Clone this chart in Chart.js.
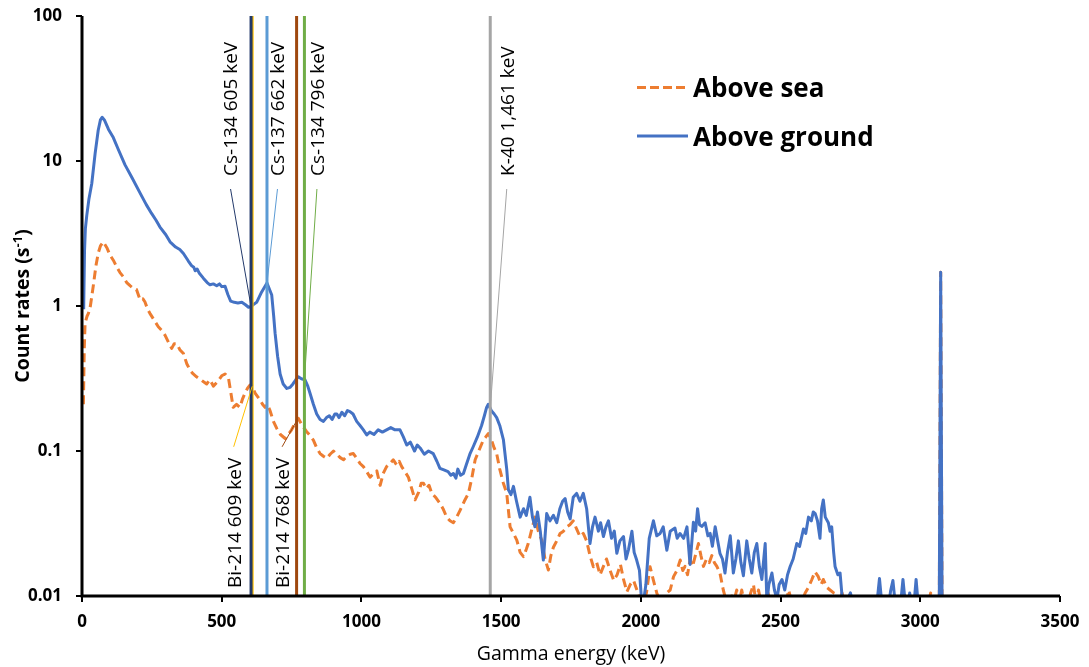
<!DOCTYPE html>
<html>
<head>
<meta charset="utf-8">
<script src="https://cdn.jsdelivr.net/npm/chart.js@4/dist/chart.umd.min.js"></script>
<style>
  html, body { margin: 0; padding: 0; background: #fff; }
  canvas { display: block; }
</style>
</head>
<body>
<canvas id="spectrum" width="1089" height="667"></canvas>
<script>
// Gamma spectra: [energy keV, count rate s^-1]. 0.009 marks bins below the 0.01 floor.
const aboveGround = [
  [6,0.95],[9,2.4],[12,3.4],[17,4.2],[25,5.5],[35,7.0],[47,11.3],[58,16.3],[66,19.2],[72,20],[80,19.2],
  [95,16.5],[112,14.5],[130,12],[154,9.4],[180,7.6],[208,6.0],[230,5.0],[249,4.35],[265,3.9],[279,3.5],
  [300,3.1],[315,2.77],[335,2.55],[350,2.45],[363,2.3],[380,2.05],[392,1.9],[400,1.85],[405,1.75],
  [412,1.8],[420,1.68],[435,1.55],[448,1.45],[458,1.4],[470,1.42],[482,1.38],[492,1.42],[500,1.36],
  [512,1.37],[522,1.2],[532,1.08],[545,1.06],[558,1.05],[572,1.06],[585,1.02],[596,0.98],[605,0.99],
  [615,1.03],[625,1.06],[643,1.25],[662,1.44],[679,1.19],[686,0.85],[691,0.65],[700,0.45],[709,0.34],
  [720,0.29],[733,0.27],[745,0.275],[755,0.29],[765,0.31],[774,0.325],[785,0.315],[798,0.31],[808,0.28],
  [816,0.25],[828,0.21],[840,0.18],[852,0.165],[864,0.16],[875,0.17],[885,0.175],[895,0.165],[905,0.18],
  [912,0.18],[920,0.17],[930,0.185],[940,0.175],[950,0.19],[959,0.187],[970,0.18],[983,0.16],[995,0.15],
  [1007,0.14],[1019,0.129],[1030,0.135],[1045,0.13],[1060,0.14],[1075,0.135],[1090,0.14],[1105,0.145],
  [1120,0.14],[1138,0.14],[1150,0.125],[1162,0.11],[1175,0.115],[1190,0.1],[1200,0.11],[1210,0.105],
  [1225,0.095],[1240,0.1],[1257,0.096],[1270,0.085],[1281,0.076],[1295,0.074],[1310,0.072],[1320,0.068],
  [1329,0.07],[1338,0.065],[1345,0.075],[1355,0.068],[1365,0.07],[1375,0.08],[1388,0.095],[1400,0.107],
  [1415,0.125],[1430,0.15],[1440,0.175],[1448,0.2],[1454,0.21],[1465,0.19],[1475,0.18],[1484,0.17],
  [1495,0.15],[1508,0.12],[1520,0.075],[1526,0.054],[1535,0.05],[1544,0.057],[1555,0.045],[1568,0.035],
  [1580,0.04],[1590,0.036],[1603,0.048],[1612,0.035],[1621,0.03],[1630,0.038],[1640,0.028],[1651,0.0177],
  [1663,0.037],[1675,0.033],[1687,0.036],[1699,0.032],[1710,0.04],[1720,0.045],[1729,0.047],[1738,0.038],
  [1747,0.034],[1758,0.048],[1770,0.051],[1782,0.045],[1794,0.051],[1806,0.04],[1818,0.023],[1827,0.03],
  [1836,0.035],[1848,0.028],[1856,0.032],[1866,0.0257],[1875,0.03],[1884,0.033],[1895,0.025],[1905,0.028],
  [1914,0.0197],[1925,0.024],[1938,0.0257],[1947,0.018],[1956,0.021],[1968,0.028],[1976,0.02],[1985,0.0177],
  [1995,0.015],[2003,0.009],[2009,0.009],[2018,0.012],[2030,0.025],[2045,0.033],[2057,0.026],[2069,0.027],
  [2080,0.03],[2093,0.0207],[2105,0.028],[2122,0.0294],[2130,0.025],[2140,0.027],[2153,0.025],[2165,0.03],
  [2176,0.0165],[2188,0.0322],[2196,0.028],[2203,0.04],[2210,0.031],[2218,0.0302],[2230,0.032],[2240,0.026],
  [2248,0.027],[2256,0.022],[2266,0.03],[2275,0.024],[2283,0.0197],[2292,0.018],[2301,0.0144],[2310,0.02],
  [2320,0.026],[2331,0.0144],[2340,0.018],[2349,0.024],[2358,0.017],[2367,0.0138],[2379,0.024],[2388,0.018],
  [2397,0.0144],[2406,0.02],[2415,0.023],[2424,0.016],[2433,0.013],[2445,0.023],[2451,0.009],[2458,0.012],
  [2469,0.0144],[2478,0.011],[2487,0.0095],[2495,0.012],[2505,0.013],[2515,0.011],[2525,0.014],[2534,0.0159],
  [2545,0.018],[2558,0.023],[2568,0.022],[2582,0.029],[2590,0.027],[2600,0.035],[2610,0.033],[2617,0.038],
  [2624,0.037],[2632,0.033],[2641,0.025],[2647,0.04],[2653,0.046],[2660,0.035],[2671,0.032],[2677,0.028],
  [2683,0.03],[2690,0.02],[2695,0.016],[2705,0.014],[2713,0.0144],[2722,0.009],[2735,0.009],[2750,0.0105],
  [2758,0.009],[2845,0.009],[2854,0.0132],[2862,0.009],[2888,0.009],[2894,0.0109],[2902,0.0128],[2910,0.009],
  [2930,0.009],[2938,0.013],[2946,0.009],[2958,0.009],[2962,0.0105],[2968,0.009],[2978,0.009],[2985,0.013],
  [2992,0.009],[3068,0.009],[3073,1.71],[3078,0.009]
];

const aboveSea = [
  [5,0.21],[8,0.5],[11,0.76],[18,0.85],[23,0.89],[30,1.0],[40,1.36],[50,1.9],[58,2.31],[66,2.6],[76,2.77],
  [90,2.5],[100,2.25],[112,2.07],[125,1.85],[136,1.7],[148,1.59],[160,1.45],[172,1.38],[184,1.32],[195,1.3],
  [208,1.1],[218,1.12],[225,1.07],[235,0.95],[243,0.89],[258,0.8],[273,0.72],[285,0.68],[297,0.63],[310,0.56],
  [321,0.51],[330,0.55],[339,0.55],[350,0.5],[363,0.47],[375,0.4],[387,0.36],[398,0.34],[410,0.325],[425,0.31],
  [435,0.3],[446,0.29],[458,0.31],[470,0.28],[485,0.3],[500,0.33],[512,0.34],[524,0.32],[533,0.25],[541,0.2],
  [553,0.21],[565,0.2],[575,0.23],[583,0.25],[592,0.27],[601,0.285],[607,0.285],[620,0.25],[637,0.225],
  [646,0.21],[655,0.2],[663,0.21],[673,0.19],[685,0.16],[697,0.143],[710,0.13],[727,0.122],[738,0.13],
  [750,0.14],[762,0.155],[774,0.168],[788,0.15],[804,0.136],[816,0.128],[828,0.119],[840,0.105],[852,0.096],
  [864,0.092],[876,0.089],[888,0.095],[900,0.1],[912,0.095],[924,0.09],[936,0.087],[948,0.092],[960,0.095],
  [971,0.096],[985,0.088],[995,0.082],[1007,0.078],[1019,0.072],[1031,0.066],[1043,0.07],[1055,0.073],
  [1067,0.058],[1078,0.07],[1090,0.078],[1102,0.082],[1114,0.087],[1126,0.08],[1135,0.085],[1144,0.078],
  [1156,0.072],[1168,0.066],[1180,0.055],[1192,0.046],[1205,0.052],[1214,0.06],[1222,0.06],[1232,0.055],
  [1242,0.058],[1252,0.051],[1265,0.048],[1281,0.0435],[1292,0.04],[1305,0.035],[1317,0.033],[1329,0.032],
  [1341,0.035],[1353,0.039],[1368,0.045],[1383,0.051],[1395,0.065],[1407,0.087],[1420,0.1],[1436,0.119],
  [1445,0.125],[1454,0.132],[1465,0.12],[1475,0.105],[1484,0.096],[1495,0.075],[1508,0.06],[1520,0.051],
  [1532,0.03],[1544,0.027],[1556,0.0243],[1568,0.02],[1580,0.0187],[1590,0.021],[1597,0.023],[1608,0.028],
  [1621,0.035],[1633,0.028],[1645,0.0243],[1657,0.018],[1669,0.0151],[1678,0.019],[1687,0.0217],[1699,0.024],
  [1711,0.027],[1723,0.028],[1735,0.03],[1746,0.031],[1758,0.033],[1770,0.029],[1782,0.0257],[1794,0.027],
  [1806,0.024],[1818,0.019],[1830,0.0159],[1842,0.017],[1854,0.014],[1866,0.016],[1877,0.018],[1890,0.015],
  [1903,0.0128],[1915,0.014],[1927,0.0165],[1938,0.013],[1950,0.0107],[1962,0.012],[1974,0.0128],[1986,0.011],
  [1998,0.0095],[2010,0.009],[2020,0.0105],[2033,0.0159],[2045,0.0128],[2057,0.0105],[2069,0.009],[2080,0.009],
  [2093,0.0105],[2105,0.011],[2117,0.0136],[2129,0.015],[2141,0.0177],[2150,0.015],[2158,0.016],[2167,0.014],
  [2176,0.0177],[2185,0.016],[2195,0.019],[2206,0.023],[2215,0.019],[2224,0.016],[2235,0.018],[2245,0.017],
  [2254,0.019],[2263,0.017],[2272,0.016],[2283,0.0144],[2295,0.011],[2307,0.009],[2320,0.0105],[2332,0.009],
  [2343,0.011],[2352,0.009],[2361,0.011],[2370,0.009],[2385,0.009],[2393,0.0105],[2403,0.012],[2412,0.009],
  [2421,0.011],[2430,0.009],[2445,0.009],[2455,0.0105],[2465,0.009],[2480,0.009],[2490,0.0105],[2500,0.009],
  [2520,0.009],[2529,0.011],[2540,0.009],[2575,0.009],[2588,0.0105],[2600,0.0115],[2612,0.013],[2623,0.0147],
  [2635,0.0136],[2645,0.012],[2653,0.013],[2665,0.0115],[2677,0.011],[2690,0.0105],[2700,0.0103],[2710,0.009],
  [2720,0.0105],[2730,0.009],[3030,0.009],[3037,0.0105],[3045,0.009],[3068,0.009],[3073,1.71],[3078,0.009]
];

// Reference gamma lines
const markerEnergy  = [605, 609, 662, 768, 796, 1461];
const markerNuclide = ['Cs-134', 'Bi-214', 'Cs-137', 'Bi-214', 'Cs-134', 'K-40'];

// Axis ticks
const xTicks = [0, 500, 1000, 1500, 2000, 2500, 3000, 3500];
const yTicks = [0.01, 0.1, 1, 10, 100];
const yTickLabels = ['0.01', '0.1', '1', '10', '100'];

// ---- styling ----
const FONT = '"Open Sans", "Noto Sans", sans-serif';
const markerColor = ['#22396A', '#FFC000', '#5B9BD5', '#9E480E', '#70AD47', '#A5A5A5'];
// label side, series the leader points to, horizontal offset of the label from its line
const markerLabelStyle = [
  { side: 'top',    series: 'ground', dx: -19 },
  { side: 'bottom', series: 'sea',    dx: -17 },
  { side: 'top',    series: 'ground', dx: 12 },
  { side: 'bottom', series: 'sea',    dx: -13 },
  { side: 'top',    series: 'ground', dx: 14 },
  { side: 'top',    series: 'ground', dx: 18 }
];
const SEA = '#ED7D31', GROUND = '#4472C4';

function toPoints(arr) { return arr.map(([x, y]) => ({ x, y })); }

function seriesPixelY(series, e, xs, ys) {
  for (let k = 1; k < series.length; k++) {
    if (series[k][0] >= e) {
      const [e0, v0] = series[k - 1], [e1, v1] = series[k];
      const p0 = ys.getPixelForValue(v0), p1 = ys.getPixelForValue(v1);
      return p0 + (p1 - p0) * (e - e0) / (e1 - e0);
    }
  }
  return ys.getPixelForValue(series[series.length - 1][1]);
}

const overlay = {
  id: 'overlay',
  afterDatasetsDraw(chart) {
    const { ctx, chartArea: a, scales: { x, y } } = chart;
    ctx.save();
    // axis lines on top of the traces
    ctx.strokeStyle = '#000';
    ctx.lineWidth = 3;
    ctx.beginPath();
    ctx.moveTo(a.left, a.top); ctx.lineTo(a.left, a.bottom + 1.5);
    ctx.moveTo(a.left - 1.5, a.bottom); ctx.lineTo(a.right, a.bottom);
    ctx.stroke();

    // line labels with leaders
    ctx.font = '19px ' + FONT;
    ctx.textBaseline = 'middle';
    ctx.textAlign = 'left';
    markerEnergy.forEach((e, i) => {
      const st = markerLabelStyle[i];
      const text = markerNuclide[i] + ' ' + e.toLocaleString('en-US') + ' keV';
      const lx = x.getPixelForValue(e);
      const cx = lx + st.dx;
      const w = ctx.measureText(text).width;
      const startY = st.side === 'top' ? a.top + 160 : a.bottom - 8;
      const series = st.series === 'sea' ? aboveSea : aboveGround;
      const py = seriesPixelY(series, e, x, y);
      const leadY = st.side === 'top' ? startY + 13 : startY - w - 11;

      ctx.strokeStyle = markerColor[i];
      ctx.lineWidth = 1;
      ctx.beginPath();
      ctx.moveTo(cx - 1.5, leadY);
      ctx.lineTo(lx, py);
      ctx.stroke();

      ctx.save();
      ctx.translate(cx, startY);
      ctx.rotate(-Math.PI / 2);
      ctx.fillStyle = '#000';
      ctx.fillText(text, 0, 0);
      ctx.restore();
    });
    ctx.restore();
  },
  afterDraw(chart) {
    const { ctx, chartArea: a } = chart;
    ctx.save();
    // legend
    ctx.lineWidth = 3;
    ctx.strokeStyle = SEA;
    ctx.setLineDash([9, 4]);
    ctx.beginPath(); ctx.moveTo(637, 87.5); ctx.lineTo(688, 87.5); ctx.stroke();
    ctx.setLineDash([]);
    ctx.strokeStyle = GROUND;
    ctx.beginPath(); ctx.moveTo(637, 136); ctx.lineTo(688, 136); ctx.stroke();
    ctx.fillStyle = '#000';
    ctx.font = 'bold 26px ' + FONT;
    ctx.textBaseline = 'alphabetic';
    ctx.textAlign = 'left';
    ctx.fillText('Above sea', 693, 97);
    ctx.fillText('Above ground', 693, 146);

    // y-axis title with superscript
    const main = 'Count rates (s', sup = '-1', tail = ')';
    const fMain = 'bold 19.5px ' + FONT, fSup = 'bold 13px ' + FONT;
    ctx.font = fMain; const w1 = ctx.measureText(main).width, w3 = ctx.measureText(tail).width;
    ctx.font = fSup; const w2 = ctx.measureText(sup).width;
    const total = w1 + w2 + w3;
    ctx.translate(29, (a.top + a.bottom) / 2);
    ctx.rotate(-Math.PI / 2);
    let px = -total / 2;
    ctx.font = fMain; ctx.fillText(main, px, 0); px += w1;
    ctx.font = fSup; ctx.fillText(sup, px, -7.5); px += w2;
    ctx.font = fMain; ctx.fillText(tail, px, 0);
    ctx.restore();
  }
};

function build() {
  const markerSets = markerEnergy.map((e, i) => ({
    label: markerNuclide[i] + ' ' + e,
    data: [{ x: e, y: yTicks[0] }, { x: e, y: yTicks[yTicks.length - 1] }],
    borderColor: markerColor[i],
    borderWidth: 3,
    pointRadius: 0,
    order: 0
  }));

  new Chart(document.getElementById('spectrum'), {
    type: 'line',
    data: {
      datasets: [
        ...markerSets,
        { label: 'Above ground', data: toPoints(aboveGround), borderColor: GROUND, borderWidth: 3,
          pointRadius: 0, tension: 0, borderJoinStyle: 'round', order: 1 },
        { label: 'Above sea', data: toPoints(aboveSea), borderColor: SEA, borderWidth: 3,
          borderDash: [9, 5], pointRadius: 0, tension: 0, borderJoinStyle: 'round', order: 2 }
      ]
    },
    options: {
      responsive: false,
      animation: false,
      devicePixelRatio: 1,
      layout: { padding: { top: 16, right: 29, left: 0, bottom: 0 } },
      plugins: { legend: { display: false }, tooltip: { enabled: false } },
      scales: {
        x: {
          type: 'linear', min: 0, max: 3500,
          afterBuildTicks(s) { s.ticks = xTicks.map(v => ({ value: v })); },
          afterFit(s) { s.height = 71; s.paddingLeft = 0; s.paddingRight = 0; },
          ticks: { callback: v => String(v), color: '#000', padding: 10, maxRotation: 0,
                   font: { family: FONT, size: 17, weight: 'bold' } },
          grid: { drawOnChartArea: false, color: '#000', lineWidth: 2, tickLength: 6 },
          border: { display: false },
          title: { display: true, text: 'Gamma energy (keV)', color: '#000',
                   font: { family: FONT, size: 19.5 }, padding: { top: 0, bottom: 1 } }
        },
        y: {
          type: 'logarithmic', min: 0.01, max: 100,
          afterBuildTicks(s) { s.ticks = yTicks.map(v => ({ value: v })); },
          afterFit(s) { s.width = 82; s.paddingTop = 0; s.paddingBottom = 0; },
          ticks: {
            callback: v => {
              const k = yTicks.findIndex(t => Math.abs(Math.log10(t) - Math.log10(v)) < 1e-6);
              return k >= 0 ? yTickLabels[k] : '';
            },
            color: '#000', padding: 14, font: { family: FONT, size: 17, weight: 'bold' }
          },
          grid: { drawOnChartArea: false, color: '#000', lineWidth: 2, tickLength: 6 },
          border: { display: false }
        }
      }
    },
    plugins: [overlay]
  });
}

Promise.all([
  document.fonts.load('19px "Open Sans"'),
  document.fonts.load('bold 26px "Open Sans"')
]).then(build, build);
</script>
</body>
</html>
